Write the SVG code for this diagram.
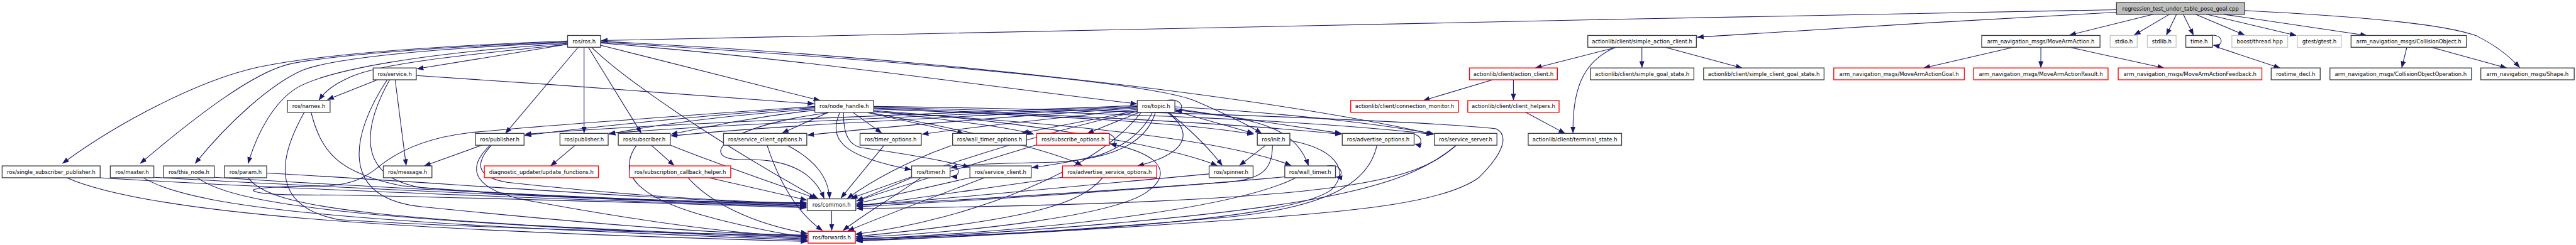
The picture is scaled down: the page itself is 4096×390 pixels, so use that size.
<svg xmlns="http://www.w3.org/2000/svg" width="4096" height="390" viewBox="0 0 4096 390">
<defs>
<marker id="a" markerUnits="userSpaceOnUse" markerWidth="16" markerHeight="12" refX="15" refY="6" orient="auto" viewBox="0 0 16 12"><path d="M0,0 L16,6 L0,12 z" fill="#191970"/></marker>
</defs>
<style>
.n rect{fill:#fff;stroke:#404040;stroke-width:2}
.n.red rect{stroke:#ff0000}
.n.gray rect{stroke:#c8c8c8}
.n.root rect{fill:#bfbfbf}
text{font-family:"DejaVu Sans",sans-serif;font-size:12.7px;text-anchor:middle;fill:#000}
#edges path{fill:none;stroke:#191970;stroke-width:1.6;marker-end:url(#a)}
</style>
<rect width="4096" height="390" fill="#fff"/>
<g transform="scale(0.672)">
<g id="edges">
<path d="M5008,23 C3800,45 2400,75 1423,96"/>
<path d="M5008,29 C4700,45 4300,70 4016,88"/>
<path d="M5095,34 L4897,83"/>
<path d="M5133,34 L5050,83"/>
<path d="M5150,34 L5126,83"/>
<path d="M5166,34 L5190,83"/>
<path d="M5195,34 L5311,83"/>
<path d="M5221,34 L5433,84"/>
<path d="M5262,34 L5600,84"/>
<path d="M5311,25 C5560,38 5780,55 5860,85 C5900,105 5935,130 5962,160"/>
<path d="M5228,84 C5262,78 5264,112 5237,107"/>
<path d="M5244,111 L5395,161"/>
<path d="M4829,112 L4829,160"/>
<path d="M4897,112 L5120,161"/>
<path d="M4764,112 L4552,161"/>
<path d="M5695,112 L5683,160"/>
<path d="M5753,112 L5931,161"/>
<path d="M3825,112 L3633,161"/>
<path d="M3820,113 C3760,140 3720,190 3722,315"/>
<path d="M3885,112 L3885,160"/>
<path d="M3940,112 L4122,161"/>
<path d="M3532,189 L3368,238"/>
<path d="M3581,189 L3581,237"/>
<path d="M3610,266 L3703,316"/>
<path d="M1343,105 L987,163"/>
<path d="M1368,112 L1196,316"/>
<path d="M1382,112 L1382,315"/>
<path d="M1392,112 L1517,315"/>
<path d="M1400,112 C1480,190 1700,340 1935,470"/>
<path d="M1421,107 L1940,238"/>
<path d="M1421,102 C1900,140 2300,200 2690,246"/>
<path d="M1421,100 C2000,135 2720,190 2830,240 C2900,270 2960,300 2985,316"/>
<path d="M1421,98 C2200,135 3000,230 3392,318"/>
<path d="M1343,97 C1000,110 750,130 612,159 C470,190 280,290 148,387"/>
<path d="M1343,99 C1000,112 760,135 684,152 C600,172 470,270 332,387"/>
<path d="M1343,101 C1000,115 780,140 714,167 C640,200 540,290 462,387"/>
<path d="M1343,103 C1000,125 780,165 704,207 C650,240 610,310 587,387"/>
<path d="M1343,105 C1100,130 900,150 830,182 C790,200 770,215 755,237"/>
<path d="M893,189 L775,236"/>
<path d="M935,189 L961,392"/>
<path d="M985,179 C1300,200 1600,220 1926,246"/>
<path d="M922,189 C860,300 840,420 1000,445 C1300,470 1700,480 1908,480"/>
<path d="M916,189 C830,320 800,470 1000,490 C1400,530 1700,555 1910,557"/>
<path d="M720,266 C650,390 650,490 800,520 C1100,540 1600,552 1910,559"/>
<path d="M736,266 C760,360 800,410 950,440 C1300,470 1700,480 1908,483"/>
<path d="M237,421 C700,450 1500,478 1908,490"/>
<path d="M364,420 C800,445 1500,476 1908,488"/>
<path d="M507,420 C900,445 1500,474 1908,486"/>
<path d="M631,410 C1000,430 1500,470 1908,484"/>
<path d="M158,421 C350,505 900,545 1910,572"/>
<path d="M339,421 C470,500 900,530 1910,569"/>
<path d="M467,421 C560,490 900,525 1910,566"/>
<path d="M587,421 C640,495 900,525 1910,563"/>
<path d="M1928,252 C1600,275 1250,300 1106,315 C1000,328 940,360 900,392 C860,425 830,436 780,440 C640,442 590,446 600,452 C615,462 700,462 800,462 C1300,472 1700,486 1908,492"/>
<path d="M1140,344 L1004,393"/>
<path d="M1163,344 C1120,390 1130,420 1200,432 C1500,465 1750,478 1908,482"/>
<path d="M1160,344 C1100,400 1120,450 1250,475 C1550,530 1750,555 1910,561"/>
<path d="M1361,344 L1303,393"/>
<path d="M1541,344 L1595,392"/>
<path d="M1506,344 C1460,410 1500,470 1700,520 C1800,545 1880,558 1910,562"/>
<path d="M1587,344 C1700,390 1850,440 1930,470"/>
<path d="M1678,421 L1909,474"/>
<path d="M1628,421 C1680,480 1780,530 1910,553"/>
<path d="M1928,255 C1700,270 1400,300 1242,321"/>
<path d="M1928,258 C1700,275 1550,295 1441,318"/>
<path d="M1928,261 C1800,275 1700,295 1588,318"/>
<path d="M1958,267 L1851,315"/>
<path d="M2019,267 L2086,315"/>
<path d="M2054,267 L2280,316"/>
<path d="M1987,267 C1960,330 1990,370 2156,402"/>
<path d="M1996,267 C1995,320 2010,345 2040,350 C2150,365 2230,380 2294,396"/>
<path d="M2068,263 C2250,285 2380,300 2446,318"/>
<path d="M2068,258 C2500,275 2800,290 2966,318"/>
<path d="M2068,256 C2600,275 2950,295 3174,318"/>
<path d="M2068,254 C2700,270 3100,285 3390,318"/>
<path d="M2068,262 C2400,285 2750,340 2880,392"/>
<path d="M2068,265 C2500,290 2900,330 3055,392"/>
<path d="M2060,267 C2300,310 2500,360 2560,392"/>
<path d="M1960,267 C1700,300 1650,380 1760,378 C1880,375 1930,420 1950,470"/>
<path d="M2068,252 C2800,262 3400,290 3540,305 C3570,320 3560,360 3500,420 C3420,480 3200,500 3000,515 C2600,545 2200,565 2026,571"/>
<path d="M2760,238 C2800,230 2805,265 2782,262"/>
<path d="M2696,266 L2573,316"/>
<path d="M2727,266 C2700,320 2650,350 2600,368 C2530,385 2480,392 2442,397"/>
<path d="M2734,266 C2715,330 2650,375 2500,384 C2350,388 2290,388 2250,398"/>
<path d="M2762,266 C2820,310 2820,360 2692,393"/>
<path d="M2765,266 C2820,310 2860,350 2892,392"/>
<path d="M2780,260 C2950,280 3060,290 3096,392"/>
<path d="M2780,263 L2966,316"/>
<path d="M2780,257 L3174,316"/>
<path d="M2780,253 C3000,265 3250,290 3394,318"/>
<path d="M2691,250 C2200,270 1600,290 1242,318"/>
<path d="M2691,252 C2200,275 1700,295 1441,316"/>
<path d="M2691,254 C2200,280 1800,300 1588,322"/>
<path d="M2691,256 C2400,275 2100,300 1911,320"/>
<path d="M2691,259 C2500,280 2300,300 2182,318"/>
<path d="M2691,262 C2600,280 2500,300 2418,315"/>
<path d="M2691,264 C2400,330 2150,420 2014,470"/>
<path d="M2700,266 C2600,400 2300,520 2024,555"/>
<path d="M2092,344 L1990,469"/>
<path d="M2251,345 C2150,380 2060,430 2005,470"/>
<path d="M2157,421 L2027,476"/>
<path d="M2179,421 C2110,470 2040,510 1995,546"/>
<path d="M2240,393 C2275,388 2275,420 2250,418"/>
<path d="M2295,421 L2027,482"/>
<path d="M2329,421 C2200,470 2070,520 2006,547"/>
<path d="M1863,344 C1930,380 1960,420 1963,470"/>
<path d="M1815,344 C1840,420 1880,500 1946,546"/>
<path d="M1968,499 L1968,546"/>
<path d="M2995,344 L2933,392"/>
<path d="M3011,344 C3010,400 2990,425 2900,432 C2500,460 2200,480 2027,485"/>
<path d="M3052,333 C3150,350 3200,400 3150,450 C3050,520 2500,555 2026,565"/>
<path d="M2861,412 C2500,445 2200,475 2027,487"/>
<path d="M3040,419 C2700,450 2300,475 2027,490"/>
<path d="M3066,421 C2950,480 2600,540 2026,567"/>
<path d="M3140,393 C3180,386 3180,422 3161,419"/>
<path d="M2514,420 C2300,450 2100,480 2027,488"/>
<path d="M2609,421 C2560,480 2450,520 2026,560"/>
<path d="M2600,316 C2645,310 2645,345 2627,341"/>
<path d="M2453,343 C2300,390 2100,450 2028,476"/>
<path d="M2625,340 C2770,370 2760,420 2720,450 C2650,510 2300,550 2026,562"/>
<path d="M3320,316 C3370,310 3370,348 3348,341"/>
<path d="M3258,344 C3240,430 3150,490 2900,515 C2500,550 2200,565 2026,569"/>
<path d="M3446,344 C3350,430 3200,480 2027,494"/>
<path d="M3446,344 C3330,440 3150,510 2026,570"/>
</g>
<g id="root" class="n root"><rect x="5008" y="6" width="303" height="28"/><text x="5159.5" y="24.6">regression_test_under_table_pose_goal.cpp</text></g>
<g id="ros_h" class="n"><rect x="1343" y="84" width="78" height="28"/><text x="1382" y="102.6">ros/ros.h</text></g>
<g id="sac" class="n"><rect x="3757" y="84" width="257" height="28"/><text x="3885.5" y="102.6">actionlib/client/simple_action_client.h</text></g>
<g id="mva" class="n"><rect x="4689" y="84" width="280" height="28"/><text x="4829" y="102.6">arm_navigation_msgs/MoveArmAction.h</text></g>
<g id="stdio" class="n gray"><rect x="4993" y="84" width="64" height="28"/><text x="5025" y="102.6">stdio.h</text></g>
<g id="stdlib" class="n gray"><rect x="5081" y="84" width="68" height="28"/><text x="5115" y="102.6">stdlib.h</text></g>
<g id="time" class="n"><rect x="5172" y="84" width="63" height="28"/><text x="5203.5" y="102.6">time.h</text></g>
<g id="boost" class="n gray"><rect x="5281" y="84" width="132" height="28"/><text x="5347" y="102.6">boost/thread.hpp</text></g>
<g id="gtest" class="n gray"><rect x="5436" y="84" width="104" height="28"/><text x="5488" y="102.6">gtest/gtest.h</text></g>
<g id="colobj" class="n"><rect x="5563" y="84" width="273" height="28"/><text x="5699.5" y="102.6">arm_navigation_msgs/CollisionObject.h</text></g>
<g id="service" class="n"><rect x="883" y="161" width="102" height="28"/><text x="934" y="179.6">ros/service.h</text></g>
<g id="ac" class="n red"><rect x="3477" y="161" width="208" height="28"/><text x="3581" y="179.6">actionlib/client/action_client.h</text></g>
<g id="sgs" class="n"><rect x="3763" y="161" width="245" height="28"/><text x="3885.5" y="179.6">actionlib/client/simple_goal_state.h</text></g>
<g id="scgs" class="n"><rect x="4031" y="161" width="285" height="28"/><text x="4173.5" y="179.6">actionlib/client/simple_client_goal_state.h</text></g>
<g id="mvag" class="n red"><rect x="4339" y="161" width="309" height="28"/><text x="4493.5" y="179.6">arm_navigation_msgs/MoveArmActionGoal.h</text></g>
<g id="mvar" class="n red"><rect x="4670" y="161" width="318" height="28"/><text x="4829" y="179.6">arm_navigation_msgs/MoveArmActionResult.h</text></g>
<g id="mvaf" class="n red"><rect x="5012" y="161" width="340" height="28"/><text x="5182" y="179.6">arm_navigation_msgs/MoveArmActionFeedback.h</text></g>
<g id="rtd" class="n"><rect x="5374" y="161" width="116" height="28"/><text x="5432" y="179.6">rostime_decl.h</text></g>
<g id="coo" class="n"><rect x="5513" y="161" width="335" height="28"/><text x="5680.5" y="179.6">arm_navigation_msgs/CollisionObjectOperation.h</text></g>
<g id="shape" class="n"><rect x="5870" y="161" width="221" height="28"/><text x="5980.5" y="179.6">arm_navigation_msgs/Shape.h</text></g>
<g id="names" class="n"><rect x="680" y="238" width="101" height="28"/><text x="730.5" y="256.6">ros/names.h</text></g>
<g id="nh" class="n"><rect x="1928" y="238" width="139" height="28"/><text x="1997.5" y="256.6">ros/node_handle.h</text></g>
<g id="topic" class="n"><rect x="2691" y="238" width="89" height="28"/><text x="2735.5" y="256.6">ros/topic.h</text></g>
<g id="cm" class="n red"><rect x="3196" y="238" width="255" height="28"/><text x="3323.5" y="256.6">actionlib/client/connection_monitor.h</text></g>
<g id="ch" class="n red"><rect x="3473" y="238" width="216" height="28"/><text x="3581" y="256.6">actionlib/client/client_helpers.h</text></g>
<g id="pub1" class="n"><rect x="1125" y="316" width="115" height="28"/><text x="1182.5" y="334.6">ros/publisher.h</text></g>
<g id="pub2" class="n"><rect x="1325" y="316" width="114" height="28"/><text x="1382" y="334.6">ros/publisher.h</text></g>
<g id="sub" class="n"><rect x="1463" y="316" width="123" height="28"/><text x="1524.5" y="334.6">ros/subscriber.h</text></g>
<g id="sco" class="n"><rect x="1712" y="316" width="197" height="28"/><text x="1810.5" y="334.6">ros/service_client_options.h</text></g>
<g id="tio" class="n"><rect x="2035" y="316" width="145" height="28"/><text x="2107.5" y="334.6">ros/timer_options.h</text></g>
<g id="wto" class="n"><rect x="2254" y="316" width="175" height="28"/><text x="2341.5" y="334.6">ros/wall_timer_options.h</text></g>
<g id="subo" class="n red"><rect x="2453" y="316" width="172" height="28"/><text x="2539" y="334.6">ros/subscribe_options.h</text></g>
<g id="init" class="n"><rect x="2975" y="316" width="77" height="28"/><text x="3013.5" y="334.6">ros/init.h</text></g>
<g id="advo" class="n"><rect x="3176" y="316" width="170" height="28"/><text x="3261" y="334.6">ros/advertise_options.h</text></g>
<g id="ss" class="n"><rect x="3394" y="316" width="148" height="28"/><text x="3468" y="334.6">ros/service_server.h</text></g>
<g id="ts" class="n"><rect x="3616" y="316" width="221" height="28"/><text x="3726.5" y="334.6">actionlib/client/terminal_state.h</text></g>
<g id="ssp" class="n"><rect x="5" y="393" width="232" height="28"/><text x="121" y="411.6">ros/single_subscriber_publisher.h</text></g>
<g id="master" class="n"><rect x="261" y="393" width="103" height="28"/><text x="312.5" y="411.6">ros/master.h</text></g>
<g id="this_node" class="n"><rect x="387" y="393" width="120" height="28"/><text x="447" y="411.6">ros/this_node.h</text></g>
<g id="param" class="n"><rect x="531" y="393" width="100" height="28"/><text x="581" y="411.6">ros/param.h</text></g>
<g id="message" class="n"><rect x="907" y="393" width="115" height="28"/><text x="964.5" y="411.6">ros/message.h</text></g>
<g id="diag" class="n red"><rect x="1146" y="393" width="270" height="28"/><text x="1281" y="411.6">diagnostic_updater/update_functions.h</text></g>
<g id="scbh" class="n red"><rect x="1490" y="393" width="239" height="28"/><text x="1609.5" y="411.6">ros/subscription_callback_helper.h</text></g>
<g id="timer" class="n"><rect x="2157" y="393" width="91" height="28"/><text x="2202.5" y="411.6">ros/timer.h</text></g>
<g id="sc" class="n"><rect x="2295" y="393" width="145" height="28"/><text x="2367.5" y="411.6">ros/service_client.h</text></g>
<g id="aso" class="n red"><rect x="2514" y="393" width="223" height="28"/><text x="2625.5" y="411.6">ros/advertise_service_options.h</text></g>
<g id="spinner" class="n"><rect x="2861" y="393" width="104" height="28"/><text x="2913" y="411.6">ros/spinner.h</text></g>
<g id="wall_timer" class="n"><rect x="3040" y="393" width="120" height="28"/><text x="3100" y="411.6">ros/wall_timer.h</text></g>
<g id="common" class="n"><rect x="1910" y="471" width="115" height="28"/><text x="1967.5" y="489.6">ros/common.h</text></g>
<g id="forwards" class="n red"><rect x="1912" y="548" width="112" height="28"/><text x="1968" y="566.6">ros/forwards.h</text></g>
</g>
</svg>
